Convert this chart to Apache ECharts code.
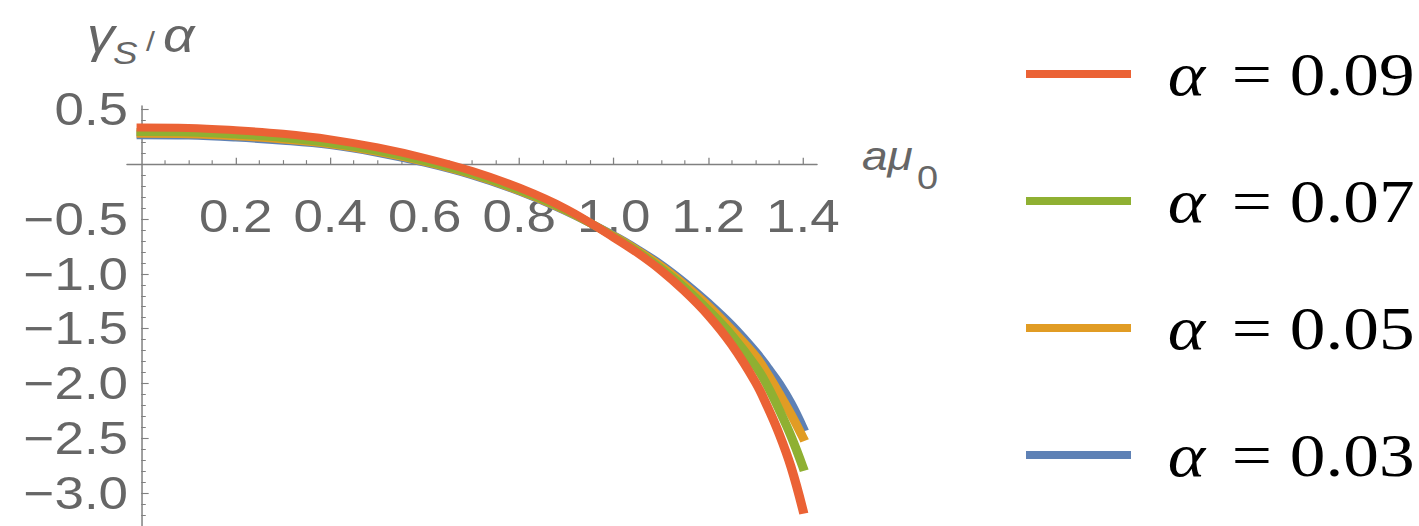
<!DOCTYPE html>
<html>
<head>
<meta charset="utf-8">
<script src="https://cdn.jsdelivr.net/npm/echarts@6/dist/echarts.min.js"></script>
<style>
  html, body { margin: 0; padding: 0; background: #fff; overflow: hidden; }
  #wrap { width: 1419px; height: 526px; overflow: hidden; }
  #chart { height: 526px; transform-origin: 0 0; }
</style>
</head>
<body>
<div id="wrap"><div id="chart"></div></div>
<script>
// a*mu_0 sample points
const aMu = [0, 0.1, 0.2, 0.3, 0.4, 0.5, 0.6, 0.7, 0.8, 0.9, 1.0, 1.05, 1.1, 1.15, 1.2, 1.25, 1.3, 1.325, 1.35, 1.375, 1.4];

// gamma_S / alpha for each coupling
const gamma009 = [0.334, 0.330, 0.309, 0.277, 0.226, 0.152, 0.056, -0.063, -0.215, -0.410, -0.670, -0.810, -0.970, -1.160, -1.380, -1.650, -1.990, -2.210, -2.460, -2.760, -3.150];
const gamma007 = [0.292, 0.288, 0.269, 0.239, 0.191, 0.121, 0.028, -0.088, -0.237, -0.422, -0.660, -0.795, -0.950, -1.125, -1.330, -1.560, -1.840, -2.020, -2.240, -2.480, -2.760];
const gamma005 = [0.276, 0.272, 0.254, 0.225, 0.182, 0.112, 0.020, -0.095, -0.243, -0.427, -0.655, -0.785, -0.930, -1.100, -1.290, -1.510, -1.750, -1.910, -2.090, -2.280, -2.490];
const gamma003 = [0.264, 0.260, 0.242, 0.214, 0.173, 0.104, 0.013, -0.101, -0.248, -0.432, -0.650, -0.775, -0.915, -1.080, -1.265, -1.470, -1.710, -1.850, -2.000, -2.180, -2.400];

const alphaValues = ['0.09', '0.07', '0.05', '0.03'];
const lineColors = ['#EB6235', '#8FB032', '#E19C24', '#5E81B5'];

// tick labels
const xTickLabels = [0.2, 0.4, 0.6, 0.8, 1.0, 1.2, 1.4];
const yTickLabels = [0.5, -0.5, -1.0, -1.5, -2.0, -2.5, -3.0];

// The figure is drawn slightly wide: text and layout are stretched horizontally.
const SX = 1.15;
const W = 1419, H = 526;
const hx = v => v / SX;

const el = document.getElementById('chart');
el.style.width = (W / SX) + 'px';
el.style.transform = 'scaleX(' + SX + ')';

// minor tick positions (every 0.05 on x, every 0.1 on y)
const xMinor = [];
for (let k = 1; k <= 28; k++) { if (k % 4 !== 0) xMinor.push(+(k * 0.05).toFixed(2)); }
const yMinor = [];
for (let k = -33; k <= 5; k++) { if (k % 5 !== 0) yMinor.push(+(k * 0.1).toFixed(1)); }

const gray = '#808080';
const labelGray = '#666666';
const fmt = v => (v < 0 ? '\u2212' + Math.abs(v).toFixed(1) : v.toFixed(1));

const seriesOrder = [3, 2, 1, 0]; // draw 0.03 first, 0.09 on top
const seriesData = [gamma009, gamma007, gamma005, gamma003];

// plot area: x from -0.03 to 1.43, y from -3.35 to 0.53
const X_MIN = -0.03, X_MAX = 1.43, Y_MIN = -3.35, Y_MAX = 0.53;
const plotTop = 106, plotHeight = 425.6;
const zeroRowHeight = plotHeight * Y_MAX / (Y_MAX - Y_MIN);

const chart = echarts.init(el, null, { renderer: 'svg', width: W / SX, height: H });

const axisCommonX = {
  type: 'value', min: X_MIN, max: X_MAX, position: 'bottom',
  splitLine: { show: false }
};
const axisCommonY = {
  type: 'value', min: Y_MIN, max: Y_MAX, position: 'left',
  splitLine: { show: false }
};

chart.setOption({
  animation: false,
  backgroundColor: '#ffffff',
  grid: [
    { left: hx(127), width: hx(690), top: plotTop, height: plotHeight, outerBoundsMode: 'none', containLabel: false },
    // band above the zero line, used to hang the horizontal tick labels under y = 0
    { left: hx(127), width: hx(690), top: plotTop, height: zeroRowHeight, outerBoundsMode: 'none', containLabel: false }
  ],
  xAxis: [
    Object.assign({}, axisCommonX, {
      axisLine: { show: true, onZero: true, onZeroAxisIndex: 0, lineStyle: { color: gray, width: 1.3 } },
      axisTick: { show: true, inside: true, length: 6.5, customValues: xTickLabels, lineStyle: { color: gray, width: 1.1 } },
      axisLabel: { show: false }
    }),
    Object.assign({}, axisCommonX, {
      axisLine: { show: false, onZero: true, onZeroAxisIndex: 0 },
      axisTick: { show: true, inside: true, length: 4, customValues: xMinor, lineStyle: { color: gray, width: 1 } },
      axisLabel: { show: false }
    }),
    Object.assign({}, axisCommonX, {
      gridIndex: 1,
      axisLine: { show: false, onZero: false },
      axisTick: { show: false },
      axisLabel: {
        show: true, customValues: xTickLabels, formatter: fmt, margin: 29,
        color: labelGray, fontFamily: 'Liberation Sans', fontSize: 46
      }
    })
  ],
  yAxis: [
    Object.assign({}, axisCommonY, {
      axisLine: { show: true, onZero: true, onZeroAxisIndex: 0, lineStyle: { color: gray, width: 1.3 } },
      axisTick: { show: true, inside: true, length: 6.5, customValues: yTickLabels, lineStyle: { color: gray, width: 1.1 } },
      axisLabel: {
        show: true, customValues: yTickLabels, formatter: fmt, margin: hx(-1),
        padding: [8, 0, 0, 0],
        color: labelGray, fontFamily: 'Liberation Sans', fontSize: 46
      }
    }),
    Object.assign({}, axisCommonY, {
      axisLine: { show: false, onZero: true, onZeroAxisIndex: 0 },
      axisTick: { show: true, inside: true, length: 4, customValues: yMinor, lineStyle: { color: gray, width: 1 } },
      axisLabel: { show: false }
    }),
    { type: 'value', gridIndex: 1, min: 0, max: Y_MAX, show: false }
  ],
  legend: {
    orient: 'vertical',
    left: hx(1026), top: 42, padding: 0,
    itemWidth: hx(105), itemHeight: 8, itemGap: 63,
    icon: 'rect',
    data: alphaValues.map(a => '\u03b1 = ' + a),
    formatter: name => '{g| }{a|\u03b1}{e|=}{n|' + name.split('= ')[1] + '}',
    textStyle: {
      color: '#000', fontFamily: 'Liberation Serif', fontSize: 62, lineHeight: 64,
      rich: {
        g: { width: 27, fontSize: 62, lineHeight: 64 },
        a: { width: hx(64), fontFamily: 'Liberation Serif', fontStyle: 'italic', fontSize: 62, lineHeight: 64, color: '#000' },
        e: { width: hx(58), fontFamily: 'Liberation Serif', fontSize: 62, lineHeight: 64, color: '#000' },
        n: { fontFamily: 'Liberation Serif', fontSize: 62, lineHeight: 64, color: '#000' }
      }
    }
  },
  graphic: [
    // vertical axis title: gamma_S / alpha
    { type: 'text', x: hx(87), y: 35, style: { text: '\u03b3', font: 'italic 48px "Liberation Sans"', fill: labelGray, verticalAlign: 'middle' } },
    { type: 'text', x: hx(113), y: 53, style: { text: 'S', font: 'italic 32px "Liberation Sans"', fill: labelGray, verticalAlign: 'middle' } },
    { type: 'text', x: hx(146), y: 41, style: { text: '/', font: '28px "Liberation Sans"', fill: labelGray, verticalAlign: 'middle' } },
    { type: 'text', x: hx(163), y: 35, style: { text: '\u03b1', font: 'italic 48px "Liberation Sans"', fill: labelGray, verticalAlign: 'middle' } },
    // horizontal axis title: a mu_0
    { type: 'text', x: hx(862), y: 156, style: { text: 'a\u03bc', font: 'italic 40px "Liberation Sans"', fill: labelGray, verticalAlign: 'middle' } },
    { type: 'text', x: hx(917), y: 178, style: { text: '0', font: '33px "Liberation Sans"', fill: labelGray, verticalAlign: 'middle' } }
  ],
  series: seriesOrder.map(i => ({
    name: '\u03b1 = ' + alphaValues[i],
    type: 'line',
    xAxisIndex: 0, yAxisIndex: 0,
    data: aMu.map((x, j) => [x, seriesData[i][j]]),
    smooth: 0.4,
    showSymbol: false,
    symbol: 'none',
    color: lineColors[i],
    lineStyle: { color: lineColors[i], width: 8, cap: 'square', join: 'round' },
    itemStyle: { color: lineColors[i] },
    emphasis: { disabled: true }
  }))
});
</script>
</body>
</html>
